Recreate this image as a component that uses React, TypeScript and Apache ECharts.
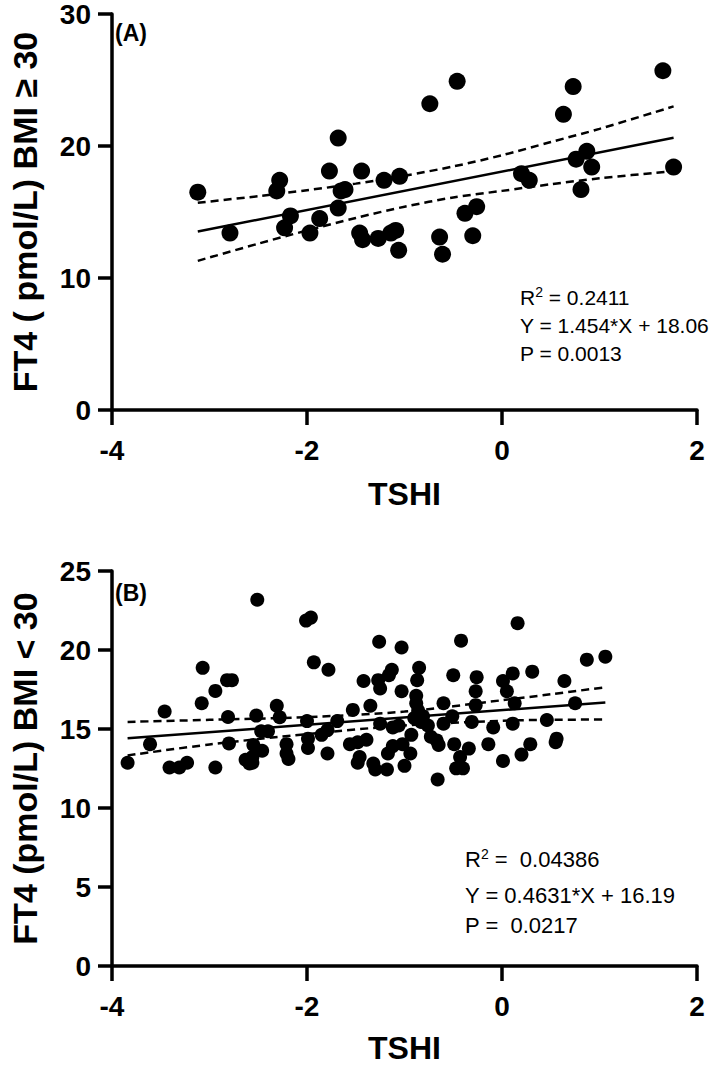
import React, { useEffect, useRef } from "react";
import * as echarts from "echarts";

// ---------- Data ----------
const xTicks = [-4, -2, 0, 2];
const yTicksA = [0, 10, 20, 30];
const yTicksB = [0, 5, 10, 15, 20, 25];

// Panel A: BMI >= 30
const pointsA: [number, number][] = [
  [-3.12, 16.5], [-2.79, 13.4], [-2.28, 17.4], [-2.31, 16.6], [-2.17, 14.7],
  [-2.23, 13.8], [-1.97, 13.4], [-1.87, 14.5], [-1.77, 18.1], [-1.68, 20.6],
  [-1.61, 16.7], [-1.65, 16.6], [-1.68, 15.3], [-1.44, 18.1], [-1.46, 13.4],
  [-1.43, 12.9], [-1.27, 13.0], [-1.21, 17.4], [-1.14, 13.4], [-1.09, 13.6],
  [-1.05, 17.7], [-1.06, 12.1], [-0.74, 23.2], [-0.46, 24.9], [-0.64, 13.1],
  [-0.61, 11.8], [-0.38, 14.9], [-0.26, 15.4], [-0.30, 13.2], [0.20, 17.9],
  [0.28, 17.4], [0.63, 22.4], [0.73, 24.5], [0.76, 19.0], [0.87, 19.6],
  [0.92, 18.4], [0.81, 16.7], [1.65, 25.7], [1.76, 18.4],
];
const slopeA = 1.454;
const interceptA = 18.06;
const fitRangeA = [-3.12, 1.76];
const upperA: [number, number][] = [
  [-3.12, 15.7], [-2.5, 16.2], [-2, 16.65], [-1.5, 17.15], [-1, 17.75],
  [-0.5, 18.45], [0, 19.3], [0.5, 20.3], [1, 21.3], [1.76, 23.0],
];
const lowerA: [number, number][] = [
  [-3.12, 11.3], [-2.5, 12.6], [-2, 13.6], [-1.5, 14.55], [-1, 15.4],
  [-0.5, 16.1], [0, 16.6], [0.5, 17.1], [1, 17.55], [1.76, 18.1],
];

// Panel B: BMI < 30
const pointsB: [number, number][] = [
  [-3.84, 12.86], [-3.61, 14.04], [-3.46, 16.11], [-3.41, 12.56], [-3.31, 12.56],
  [-3.23, 12.86], [-3.08, 16.63], [-3.07, 18.87], [-2.94, 17.41], [-2.94, 12.56],
  [-2.81, 15.76], [-2.80, 14.09], [-2.82, 18.09], [-2.77, 18.09], [-2.63, 13.05],
  [-2.59, 12.82], [-2.56, 13.22], [-2.55, 13.99], [-2.52, 15.85], [-2.51, 23.18],
  [-2.47, 14.86], [-2.46, 13.62], [-2.40, 14.86], [-2.56, 12.86], [-2.31, 16.47],
  [-2.28, 15.74], [-2.21, 14.04], [-2.21, 13.45], [-2.19, 13.10], [-2.01, 21.86],
  [-1.96, 22.05], [-2.0, 15.50], [-1.99, 14.39], [-1.99, 13.80], [-1.93, 19.22],
  [-1.85, 14.63], [-1.79, 14.93], [-1.79, 13.45], [-1.78, 18.75], [-1.69, 15.50],
  [-1.53, 16.21], [-1.42, 18.04], [-1.56, 14.04], [-1.48, 14.16], [-1.46, 13.22],
  [-1.48, 12.86], [-1.39, 14.32], [-1.35, 16.47], [-1.32, 12.82], [-1.30, 12.44],
  [-1.27, 18.09], [-1.25, 17.57], [-1.26, 20.52], [-1.25, 15.34], [-1.18, 12.44],
  [-1.17, 13.45], [-1.16, 18.40], [-1.13, 18.75], [-1.12, 15.10], [-1.12, 13.92],
  [-1.06, 15.22], [-1.03, 20.16], [-1.03, 17.39], [-1.02, 14.04], [-1.0, 12.67],
  [-0.94, 13.45], [-0.93, 14.63], [-0.90, 15.69], [-0.85, 18.87], [-0.87, 18.09],
  [-0.88, 17.10], [-0.88, 16.63], [-0.86, 16.16], [-0.83, 15.45], [-0.81, 15.81],
  [-0.76, 15.22], [-0.73, 14.51], [-0.67, 14.28], [-0.65, 13.99], [-0.66, 11.80],
  [-0.60, 16.63], [-0.60, 15.34], [-0.50, 18.40], [-0.51, 15.81], [-0.49, 14.04],
  [-0.47, 12.51], [-0.43, 13.22], [-0.40, 12.51], [-0.42, 20.59], [-0.34, 13.76],
  [-0.31, 15.45], [-0.27, 16.51], [-0.27, 17.39], [-0.26, 18.28], [-0.14, 14.04],
  [-0.09, 15.10], [0.01, 18.04], [0.01, 12.98], [0.05, 17.39], [0.11, 18.52],
  [0.11, 15.34], [0.13, 16.63], [0.16, 21.70], [0.20, 13.38], [0.29, 14.04],
  [0.31, 18.63], [0.46, 15.57], [0.55, 14.16], [0.56, 14.39], [0.64, 18.04],
  [0.75, 16.63], [0.87, 19.39], [1.06, 19.58],
];
const slopeB = 0.4631;
const interceptB = 16.19;
const fitRangeB = [-3.84, 1.06];
const upperB: [number, number][] = [
  [-3.84, 15.45], [-3, 15.58], [-2, 15.75], [-1, 16.1], [0, 16.82], [0.5, 17.2], [1.06, 17.64],
];
const lowerB: [number, number][] = [
  [-3.84, 13.33], [-3, 14.02], [-2, 14.68], [-1, 15.22], [0, 15.52], [0.5, 15.58], [1.06, 15.6],
];

const statsA = ["R{sup|2} = 0.2411", "Y = 1.454*X + 18.06", "P = 0.0013"];
const statsB = ["R{sup|2} =  0.04386", "Y = 0.4631*X + 16.19", "P =  0.0217"];

// ---------- Chart ----------
const FONT = "'Liberation Sans', Arial, Helvetica, sans-serif";

function fitLine(slope: number, intercept: number, range: number[]): [number, number][] {
  return range.map((x) => [x, slope * x + intercept]);
}

function makeXAxis(gridIndex: number, nameGap: number) {
  return {
    gridIndex,
    type: "value",
    min: xTicks[0],
    max: xTicks[xTicks.length - 1],
    interval: 2,
    axisLine: { show: true, onZero: false, lineStyle: { color: "#000", width: 3.5 } },
    axisTick: { show: true, length: 15, lineStyle: { color: "#000", width: 3.5 } },
    axisLabel: { fontSize: 28, fontWeight: "bold", color: "#000", margin: 26, fontFamily: FONT },
    splitLine: { show: false },
    name: "TSHI",
    nameLocation: "middle",
    nameGap,
    nameTextStyle: { fontSize: 32, fontWeight: "bold", color: "#000", fontFamily: FONT },
  };
}

function makeYAxis(gridIndex: number, ticks: number[], name: string, nameGap: number) {
  return {
    gridIndex,
    type: "value",
    min: ticks[0],
    max: ticks[ticks.length - 1],
    interval: ticks[1] - ticks[0],
    axisLine: { show: true, onZero: false, lineStyle: { color: "#000", width: 3.5 } },
    axisTick: { show: true, length: 14, lineStyle: { color: "#000", width: 3.5 } },
    axisLabel: { fontSize: 28, fontWeight: "bold", color: "#000", margin: 21, fontFamily: FONT },
    splitLine: { show: false },
    name,
    nameLocation: "middle",
    nameGap,
    nameTextStyle: { fontSize: 34, fontWeight: "bold", color: "#000", fontFamily: FONT },
  };
}

function lineSeries(idx: number, data: [number, number][], dashed: boolean) {
  return {
    type: "line",
    xAxisIndex: idx,
    yAxisIndex: idx,
    data,
    showSymbol: false,
    smooth: dashed ? 0.3 : false,
    silent: true,
    lineStyle: { color: "#000", width: 2.5, type: dashed ? [8, 5] : "solid" },
    z: 3,
  };
}

function statText(lines: string[], x: number, ys: number[], size: number) {
  return lines.map((t, i) => ({
    type: "text",
    x,
    y: ys[i],
    style: {
      text: t,
      fill: "#000",
      font: `${size}px ${FONT}`,
      verticalAlign: "middle",
      rich: {
        sup: { fontSize: Math.round(size * 0.65), verticalAlign: "top", padding: [0, 0, 10, 0], fontFamily: FONT },
      },
    },
  }));
}

export default function App() {
  const ref = useRef<HTMLDivElement>(null);
  useEffect(() => {
    if (!ref.current) return;
    const chart = echarts.init(ref.current, undefined, { renderer: "svg" });
    chart.setOption({
      animation: false,
      backgroundColor: "#fff",
      grid: [
        { left: 102, top: 14, width: 595, height: 396 },
        { left: 102, top: 571, width: 595, height: 395 },
      ],
      xAxis: [makeXAxis(0, 68), makeXAxis(1, 66)],
      yAxis: [
        makeYAxis(0, yTicksA, "FT4 ( pmol/L) BMI \u2265 30", 70),
        makeYAxis(1, yTicksB, "FT4 (pmol/L) BMI < 30", 70),
      ],
      series: [
        { type: "scatter", xAxisIndex: 0, yAxisIndex: 0, data: pointsA, symbolSize: 17, itemStyle: { color: "#000", opacity: 1 }, z: 4 },
        lineSeries(0, fitLine(slopeA, interceptA, fitRangeA), false),
        lineSeries(0, upperA, true),
        lineSeries(0, lowerA, true),
        { type: "scatter", xAxisIndex: 1, yAxisIndex: 1, data: pointsB, symbolSize: 14, itemStyle: { color: "#000", opacity: 1 }, z: 4 },
        lineSeries(1, fitLine(slopeB, interceptB, fitRangeB), false),
        lineSeries(1, upperB, true),
        lineSeries(1, lowerB, true),
      ],
      graphic: [
        { type: "text", x: 115, y: 33, style: { text: "(A)", fill: "#000", font: `bold 23px ${FONT}`, verticalAlign: "middle" } },
        { type: "text", x: 115, y: 593, style: { text: "(B)", fill: "#000", font: `bold 23px ${FONT}`, verticalAlign: "middle" } },
        ...statText(statsA, 520, [297, 325, 353], 21),
        ...statText(statsB, 465, [859, 895, 925], 22),
      ],
    });
    return () => chart.dispose();
  }, []);
  return (
    <div
      ref={ref}
      style={{ position: "absolute", left: 0, top: 0, width: 709, height: 1067, background: "#fff" }}
    />
  );
}
